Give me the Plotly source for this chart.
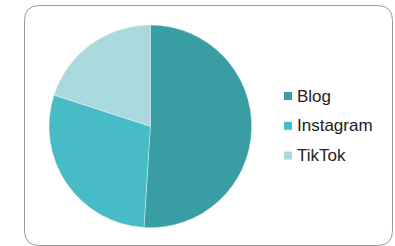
import plotly.graph_objects as go

labels = ["Blog", "Instagram", "TikTok"]
values = [51, 29, 20]
colors = ["#389EA3", "#47BCC6", "#A9D8DD"]

W, H = 395, 246

def px(x):
    return x / W

def py(y):
    return 1 - y / H

fig = go.Figure(go.Pie(
    labels=labels,
    values=values,
    sort=False,
    direction="clockwise",
    rotation=0,
    marker=dict(colors=colors, line=dict(color="rgba(255,255,255,0.6)", width=0.6)),
    textinfo="none",
    hoverinfo="label+percent",
    domain=dict(x=[px(49), px(251.7)], y=[py(227.7), py(25)]),
    showlegend=False,
))

# rounded frame
x0, x1, y0, y1, r = 24.5, 392.5, 5.5, 245.5, 15
path = (
    f"M {px(x0+r)},{py(y0)} L {px(x1-r)},{py(y0)} Q {px(x1)},{py(y0)} {px(x1)},{py(y0+r)} "
    f"L {px(x1)},{py(y1-r)} Q {px(x1)},{py(y1)} {px(x1-r)},{py(y1)} "
    f"L {px(x0+r)},{py(y1)} Q {px(x0)},{py(y1)} {px(x0)},{py(y1-r)} "
    f"L {px(x0)},{py(y0+r)} Q {px(x0)},{py(y0)} {px(x0+r)},{py(y0)} Z"
)
shapes = [dict(type="path", xref="paper", yref="paper", path=path,
               line=dict(color="#999999", width=1), layer="below")]
annotations = []

# custom legend
leg_x, leg_y0, leg_dy, sq = 284, 96, 29.8, 8
for i, (lab, col) in enumerate(zip(labels, colors)):
    cy = leg_y0 + i * leg_dy
    shapes.append(dict(type="rect", xref="paper", yref="paper",
                       x0=px(leg_x), x1=px(leg_x + sq),
                       y0=py(cy + sq / 2), y1=py(cy - sq / 2),
                       fillcolor=col, line=dict(width=0)))
    annotations.append(dict(x=px(leg_x + sq + 4), y=py(cy), xref="paper", yref="paper",
                            xanchor="left", yanchor="middle", showarrow=False,
                            text=lab, borderpad=0,
                            font=dict(family="Liberation Sans, Arial, sans-serif",
                                      size=17, color="#222222")))

fig.update_layout(
    width=W, height=H,
    margin=dict(l=0, r=0, t=0, b=0),
    paper_bgcolor="white",
    plot_bgcolor="white",
    shapes=shapes,
    annotations=annotations,
    showlegend=False,
)

fig.write_html("out.html", config={"displayModeBar": False},
               post_script="document.body.style.margin='0px';")
